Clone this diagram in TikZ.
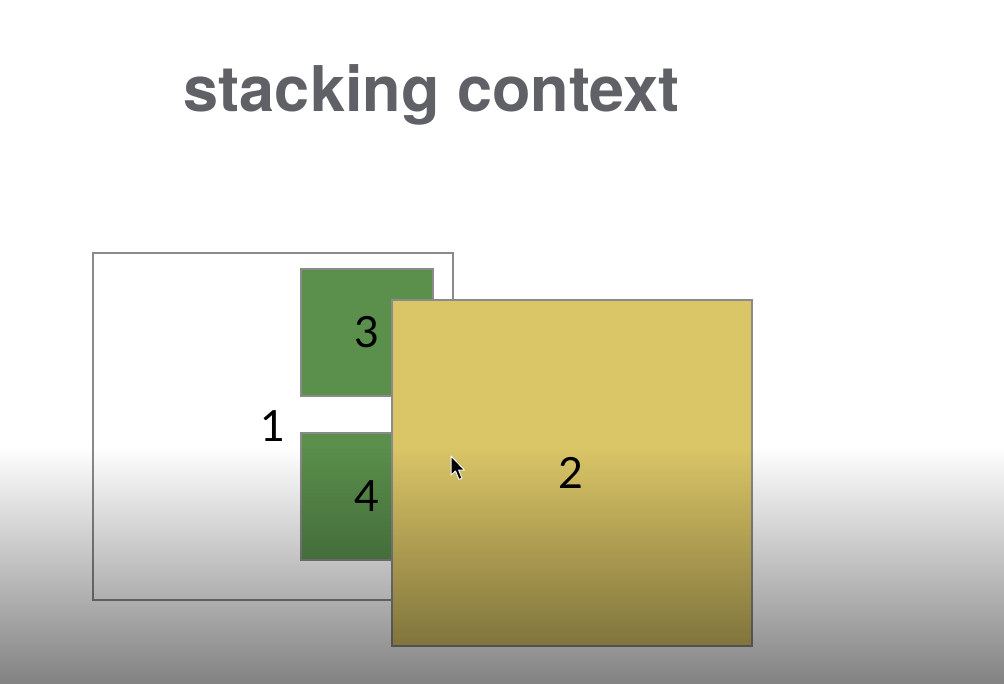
\documentclass[tikz,border=0pt]{standalone}
\usepackage{fontspec}
\setmainfont{Lato}
\newfontfamily\titlefont{TeX Gyre Heros}
\definecolor{titlegray}{RGB}{95,97,102}
\definecolor{boxedge}{RGB}{138,138,138}
\definecolor{greenbox}{RGB}{90,143,76}
\definecolor{yellowbox}{RGB}{219,198,103}
\definecolor{shadebottom}{RGB}{130,130,130}
\tikzset{
  layer/.style={draw=boxedge, line width=2pt, inner sep=0pt, font=\fontsize{43}{43}\selectfont, text=black},
}
\begin{document}
\begin{tikzpicture}[x=1pt,y=-1pt]
\useasboundingbox (0,0) rectangle (1004,684);
\fill[white] (0,0) rectangle (1004,684);
\node[font=\titlefont\bfseries\fontsize{63}{63}\selectfont, text=titlegray, anchor=base] (title) at (431.5,112) {stacking context};
\node[layer, fill=white, minimum width=360pt, minimum height=347pt] (b1) at (273,426.5) {1};
\node[layer, fill=greenbox, minimum width=132pt, minimum height=127pt] (b3) at (367,332.5) {3};
\node[layer, fill=greenbox, minimum width=132pt, minimum height=127pt] (b4) at (367,496.5) {4};
\node[layer, fill=yellowbox, minimum width=360pt, minimum height=346pt] (b2) at (572,473) {\hspace*{-2pt}2};
% mouse cursor
\filldraw[fill=black, draw=white, line width=1pt, line join=round]
  (451,456) -- (451,475) -- (455.5,471) -- (459,479.5) -- (462,478.2) -- (458.6,470) -- (464.5,470) -- cycle;
% screen shading overlay
\shade[top color=white, bottom color=shadebottom, blend mode=multiply] (0,446) rectangle (1004,684);
\end{tikzpicture}
\end{document}
